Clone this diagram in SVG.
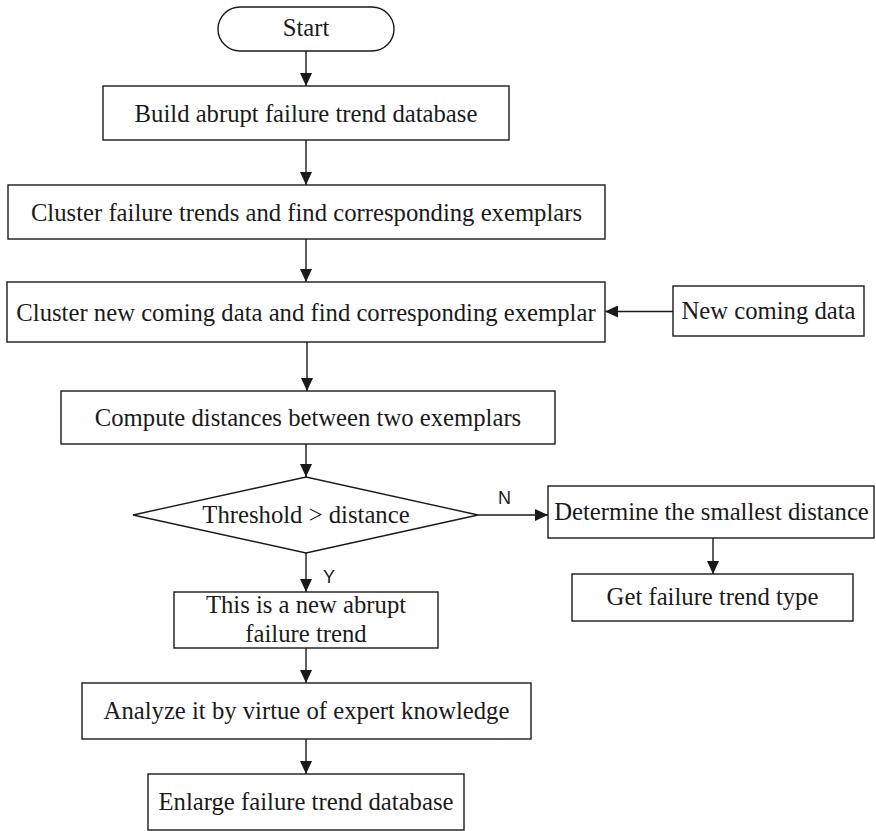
<svg xmlns="http://www.w3.org/2000/svg" width="876" height="831" viewBox="0 0 876 831">
<defs>
<style>
.box{fill:#fff;stroke:#1a1a1a;stroke-width:1.4}
.t{font-family:"Liberation Serif","Times New Roman",serif;font-size:24.7px;fill:#1a1a1a;text-anchor:middle}
.lbl{font-family:"Liberation Sans",Arial,sans-serif;font-size:18px;fill:#1a1a1a}
.c{stroke:#1a1a1a;stroke-width:1.4;fill:none;marker-end:url(#ah)}
</style>
<marker id="ah" markerUnits="userSpaceOnUse" markerWidth="13" markerHeight="12" refX="13" refY="6" orient="auto">
<path d="M0,0 L13,6 L0,12 z" fill="#1a1a1a"/>
</marker>
</defs>
<rect width="876" height="831" fill="#fff"/>
<g id="connectors">
<line class="c" x1="306" y1="51" x2="306" y2="86"/>
<line class="c" x1="306" y1="140" x2="306" y2="185"/>
<line class="c" x1="306" y1="239" x2="306" y2="282"/>
<line class="c" x1="673" y1="311.5" x2="605" y2="311.5"/>
<line class="c" x1="307" y1="342" x2="307" y2="391"/>
<line class="c" x1="306" y1="444" x2="306" y2="477"/>
<line class="c" x1="478" y1="515" x2="548" y2="515"/>
<line class="c" x1="713" y1="538" x2="713" y2="574"/>
<line class="c" x1="306" y1="553" x2="306" y2="592"/>
<line class="c" x1="306" y1="648" x2="306" y2="683"/>
<line class="c" x1="306" y1="739" x2="306" y2="774"/>
<text class="lbl" x="498" y="504">N</text>
<text class="lbl" x="323" y="583">Y</text>
</g>
<g id="start">
<rect class="box" x="218" y="7" width="176" height="44" rx="22" ry="22"/>
<text class="t" x="306" y="36">Start</text>
</g>
<g id="build">
<rect class="box" x="103" y="86" width="406" height="54"/>
<text class="t" x="306" y="122">Build abrupt failure trend database</text>
</g>
<g id="cluster-trends">
<rect class="box" x="8" y="185" width="597" height="54"/>
<text class="t" x="306.5" y="221">Cluster failure trends and find corresponding exemplars</text>
</g>
<g id="cluster-new">
<rect class="box" x="7" y="282" width="598" height="60"/>
<text class="t" x="306" y="320.5">Cluster new coming data and find corresponding exemplar</text>
</g>
<g id="new-data">
<rect class="box" x="673" y="286" width="191" height="50"/>
<text class="t" x="768.5" y="319">New coming data</text>
</g>
<g id="compute">
<rect class="box" x="61" y="391" width="494" height="53"/>
<text class="t" x="308" y="426">Compute distances between two exemplars</text>
</g>
<g id="decision">
<polygon class="box" points="133,515 306,477 478,515 306,553"/>
<text class="t" x="306" y="523">Threshold &gt; distance</text>
</g>
<g id="determine">
<rect class="box" x="548" y="486" width="326" height="52"/>
<text class="t" x="711.5" y="520">Determine the smallest distance</text>
</g>
<g id="get-type">
<rect class="box" x="572" y="574" width="281" height="47"/>
<text class="t" x="712.5" y="605">Get failure trend type</text>
</g>
<g id="new-trend">
<rect class="box" x="174" y="592" width="264" height="56"/>
<text class="t" x="306" y="613">This is a new abrupt</text>
<text class="t" x="306" y="642">failure trend</text>
</g>
<g id="analyze">
<rect class="box" x="82" y="683" width="449" height="56"/>
<text class="t" x="306.5" y="719">Analyze it by virtue of expert knowledge</text>
</g>
<g id="enlarge">
<rect class="box" x="148" y="774" width="316" height="56"/>
<text class="t" x="306" y="810">Enlarge failure trend database</text>
</g>
</svg>
